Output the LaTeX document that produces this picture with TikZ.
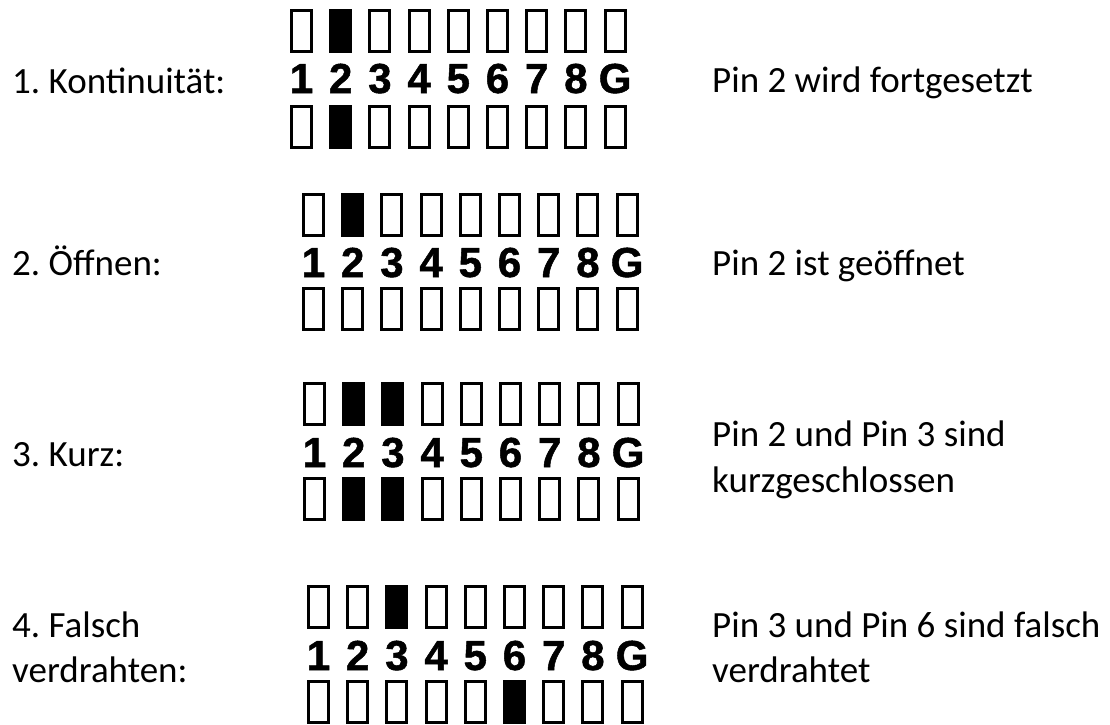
\documentclass[tikz,border=0pt]{standalone}
\usepackage{fontspec}
\setmainfont{Carlito}
\newfontfamily\pinfont{Liberation Sans Bold}[FakeBold=1.2]
\frenchspacing
\newcommand\pinpanel[7]{% name, x0, ytop, ybase, ybot, toplist, botlist
  \foreach \f [count=\i] in {#6} {
    \pgfmathsetmacro\cx{#2+11.5+(\i-1)*39.2}
    \ifnum\f=1 \node[pinon] (#1t\i) at (\cx,#3+22) {};\else \node[pinbox] (#1t\i) at (\cx,#3+22) {};\fi
  }
  \foreach \d [count=\i] in {1,2,3,4,5,6,7,8,G} {
    \pgfmathsetmacro\cx{#2+11.5+(\i-1)*39.2}
    \node[pinnum] (#1n\i) at (\cx,#4) {\d};
  }
  \foreach \f [count=\i] in {#7} {
    \pgfmathsetmacro\cx{#2+11.5+(\i-1)*39.2}
    \ifnum\f=1 \node[pinon] (#1b\i) at (\cx,#5+22) {};\else \node[pinbox] (#1b\i) at (\cx,#5+22) {};\fi
  }
}
\begin{document}
\begin{tikzpicture}[x=1pt,y=-1pt,
  lbl/.style={anchor=base west, inner sep=0pt, font=\frenchspacing\fontsize{37}{46}\selectfont},
  pinbox/.style={draw=black, line width=3pt, minimum width=20pt, minimum height=41pt, inner sep=0pt, fill=white},
  pinon/.style={pinbox, fill=black},
  pinnum/.style={anchor=base, inner sep=0pt, font=\pinfont\fontsize{42}{42}\selectfont}]
\useasboundingbox[fill=white] (0,0) rectangle (1110,724);

\pinpanel{a}{290}{9}{93}{105}{0,1,0,0,0,0,0,0,0}{0,1,0,0,0,0,0,0,0}
\pinpanel{b}{302}{193}{277}{287}{0,1,0,0,0,0,0,0,0}{0,0,0,0,0,0,0,0,0}
\pinpanel{c}{303}{382}{467}{477}{0,1,1,0,0,0,0,0,0}{0,1,1,0,0,0,0,0,0}
\pinpanel{d}{307}{585}{670}{680}{0,0,1,0,0,0,0,0,0}{0,0,0,0,0,1,0,0,0}

\node[lbl] (l1) at (12,93) {1. Kontinuität:};
\node[lbl] (l2) at (12,275) {2. Öffnen:};
\node[lbl] (l3) at (12,466) {3. Kurz:};
\node[lbl] (l4a) at (12,637) {4. Falsch};
\node[lbl] (l4b) at (12,682) {verdrahten:};

\node[lbl] (r1) at (712,92) {Pin 2 wird fortgesetzt};
\node[lbl] (r2) at (712,275) {Pin 2 ist geöffnet};
\node[lbl] (r3a) at (712,446) {Pin 2 und Pin 3 sind};
\node[lbl] (r3b) at (712,492) {kurzgeschlossen};
\node[lbl] (r4a) at (712,637) {Pin 3 und Pin 6 sind falsch};
\node[lbl] (r4b) at (712,682) {verdrahtet};
\end{tikzpicture}
\end{document}
